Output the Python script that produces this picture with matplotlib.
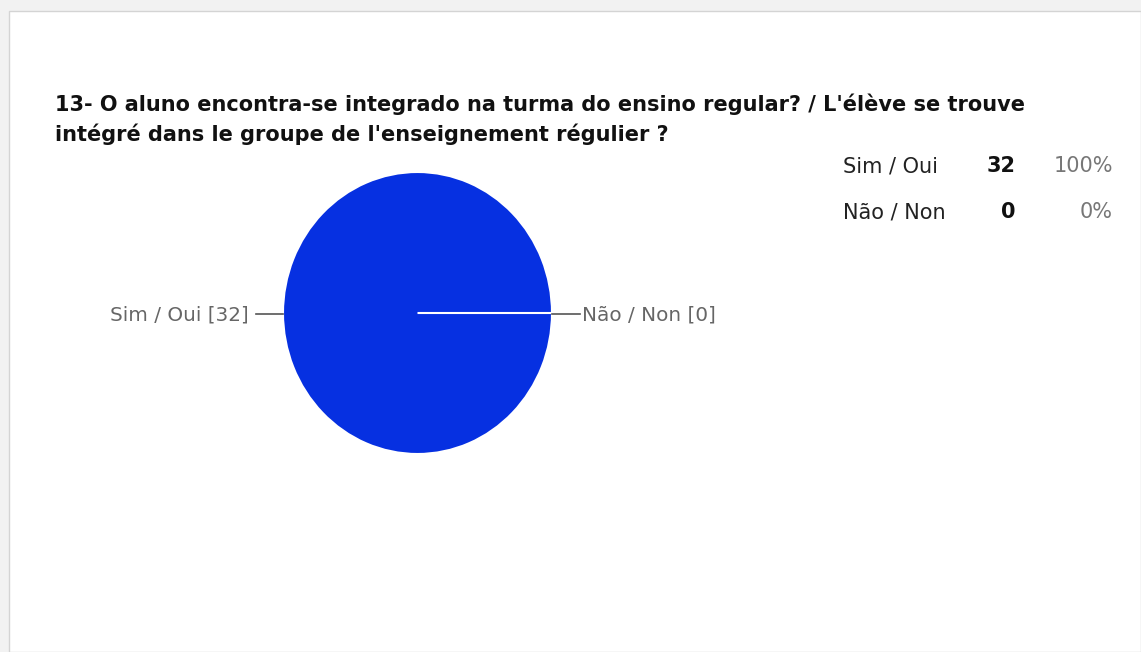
import matplotlib
matplotlib.use("Agg")
import matplotlib.pyplot as plt
from matplotlib.patches import Rectangle

plt.rcParams['font.family'] = ['DejaVu Sans']

title_lines = ["13- O aluno encontra-se integrado na turma do ensino regular? / L'élève se trouve",
               "intégré dans le groupe de l'enseignement régulier ?"]
categories = ["Sim / Oui", "Não / Non"]
counts = [32, 0]
percents = ["100%", "0%"]
pie_color = "#0630E1"

W, H = 1141, 652
fig = plt.figure(figsize=(W / 100, H / 100), dpi=100)
fig.patch.set_facecolor("#f2f2f2")

def fx(x):
    return x / W

def fy(y):
    return 1 - y / H

# white card
fig.patches.append(Rectangle((fx(9), 0), 1 - fx(9), fy(11), transform=fig.transFigure,
                             facecolor="white", edgecolor="#d4d4d4", linewidth=1.0, zorder=-10))

# title
fig.text(fx(55), fy(111), title_lines[0], fontsize=15, fontweight='bold', color='#111111', va='baseline', ha='left')
fig.text(fx(55), fy(141), title_lines[1], fontsize=15, fontweight='bold', color='#111111', va='baseline', ha='left')

# pie axes
px0, px1, py0, py1 = 283, 552, 172, 454
ax = fig.add_axes([fx(px0), fy(py1), fx(px1) - fx(px0), fy(py0) - fy(py1)])
wedges, _ = ax.pie(counts, colors=[pie_color, pie_color], startangle=0, counterclock=False,
                   wedgeprops=dict(edgecolor='white', linewidth=1.5))
ax.set_aspect('auto')
ax.set_xlim(-1, 1)
ax.set_ylim(-1, 1)
ax.axis('off')

# labels with leader lines
cy = 314
fig.add_artist(plt.Line2D([fx(256), fx(283)], [fy(cy), fy(cy)], color='#555555', linewidth=1.2))
fig.add_artist(plt.Line2D([fx(552), fx(580)], [fy(cy), fy(cy)], color='#555555', linewidth=1.2))
fig.text(fx(249), fy(cy + 7), f"{categories[0]} [{counts[0]}]", fontsize=14.4, color='#666666', ha='right', va='baseline')
fig.text(fx(582), fy(cy + 7), f"{categories[1]} [{counts[1]}]", fontsize=14.4, color='#666666', ha='left', va='baseline')

# summary table
rows_y = [172, 218]
for i in range(len(categories)):
    fig.text(fx(843), fy(rows_y[i]), categories[i], fontsize=15, color='#222222', ha='left', va='baseline')
    fig.text(fx(1016), fy(rows_y[i]), str(counts[i]), fontsize=15, fontweight='bold', color='#111111', ha='right', va='baseline')
    fig.text(fx(1113), fy(rows_y[i]), percents[i], fontsize=15, color='#777777', ha='right', va='baseline')

fig.savefig("out.png", dpi=100, facecolor=fig.get_facecolor())
